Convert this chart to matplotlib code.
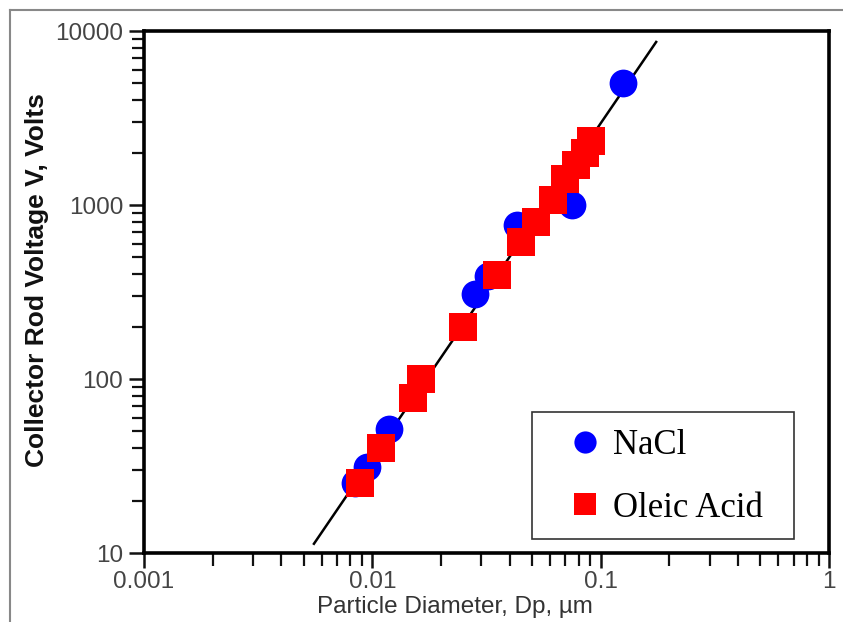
import matplotlib
matplotlib.use("Agg")
import matplotlib.pyplot as plt
from matplotlib.lines import Line2D
from matplotlib.patches import Rectangle
from matplotlib.ticker import FixedLocator, FixedFormatter, LogLocator, NullFormatter

# ---- data ----
nacl_dp = [0.0084, 0.00948, 0.01184, 0.02818, 0.03212, 0.04304, 0.07494, 0.1254]
nacl_v = [25.2, 31.2, 51.6, 308, 391, 768, 1000, 5026]

oleic_dp = [0.00884, 0.01092, 0.01508, 0.01634, 0.02496, 0.03518, 0.04481,
            0.05212, 0.06186, 0.06984, 0.07803, 0.08542, 0.09078]
oleic_v = [25.2, 40.1, 77.8, 100, 199, 396, 612, 799, 1069, 1410, 1698, 1991, 2331]

fit_dp = [0.00555, 0.175]
fit_v = [11.3, 8650]

x_ticks = [0.001, 0.01, 0.1, 1]
x_tick_labels = ["0.001", "0.01", "0.1", "1"]
y_ticks = [10, 100, 1000, 10000]
y_tick_labels = ["10", "100", "1000", "10000"]

series_labels = ["NaCl", "Oleic Acid"]
x_label = "Particle Diameter, Dp, \u00b5m"
y_label = "Collector Rod Voltage V, Volts"

# ---- figure ----
W, H = 843, 622
fig = plt.figure(figsize=(W / 100, H / 100), dpi=100)
fig.patch.set_facecolor("white")
ax = fig.add_axes([144 / W, 1 - 553 / H, (829 - 144) / W, (553 - 31) / H])

ax.plot(fit_dp, fit_v, color="black", lw=1.8, zorder=2)
h1, = ax.plot(nacl_dp, nacl_v, ls="none", marker="o", ms=20, color="#0000ff",
              markeredgewidth=0, zorder=3, label=series_labels[0])
h2, = ax.plot(oleic_dp, oleic_v, ls="none", marker="s", ms=20, color="#ff0000",
              markeredgewidth=0, zorder=4, label=series_labels[1])

ax.set_xscale("log")
ax.set_yscale("log")
ax.set_xlim(0.001, 1)
ax.set_ylim(10, 10000)

ax.xaxis.set_major_locator(FixedLocator(x_ticks))
ax.xaxis.set_major_formatter(FixedFormatter(x_tick_labels))
ax.yaxis.set_major_locator(FixedLocator(y_ticks))
ax.yaxis.set_major_formatter(FixedFormatter(y_tick_labels))
ax.xaxis.set_minor_locator(LogLocator(base=10, subs=range(2, 10)))
ax.yaxis.set_minor_locator(LogLocator(base=10, subs=range(2, 10)))
ax.xaxis.set_minor_formatter(NullFormatter())
ax.yaxis.set_minor_formatter(NullFormatter())

tick_col = "#444444"
ax.tick_params(which="major", direction="out", length=11, width=1.8,
               color="#111111", labelsize=17.5, labelcolor=tick_col, pad=4)
ax.tick_params(which="minor", direction="out", length=9, width=1.6, color="#111111")
ax.tick_params(top=False, right=False)
ax.tick_params(axis="x", which="major", pad=2)
for lab in ax.get_xticklabels() + ax.get_yticklabels():
    lab.set_family("Liberation Sans")

for s in ax.spines.values():
    s.set_linewidth(2.6)
    s.set_color("black")

ax.set_xlabel(x_label, family="Liberation Sans", fontsize=17.5, color="#333333")
ax.set_ylabel(y_label, family="Liberation Sans", fontsize=19, fontweight="bold",
              color="#111111")
ax.xaxis.set_label_coords((455 - 144) / 685, -(596 - 553) / 522)
ax.yaxis.set_label_coords((49 - 144) / 685, (553 - 280) / 522)

# legend box
ax.add_patch(Rectangle((0.566, 0.027), 0.383, 0.243, transform=ax.transAxes,
                       facecolor="white", edgecolor="#333333", lw=1.2, zorder=5))
leg = ax.legend(handles=[h1, h2], loc="upper left",
                bbox_to_anchor=((568 - 144) / 685, (553 - 429) / 522),
                frameon=False, borderpad=0, borderaxespad=0,
                handlelength=1.0, handletextpad=0.3, labelspacing=0.85,
                markerscale=0.8,
                prop={"family": "Liberation Serif", "size": 25})
leg.set_zorder(6)

# outer page border (top and left)
fig.add_artist(Line2D([10 / W, 1], [1 - 10 / H, 1 - 10 / H], transform=fig.transFigure,
                      color="#888888", lw=1.5))
fig.add_artist(Line2D([10 / W, 10 / W], [0, 1 - 10 / H], transform=fig.transFigure,
                      color="#888888", lw=1.5))

fig.savefig("out.png", dpi=100, facecolor="white")
